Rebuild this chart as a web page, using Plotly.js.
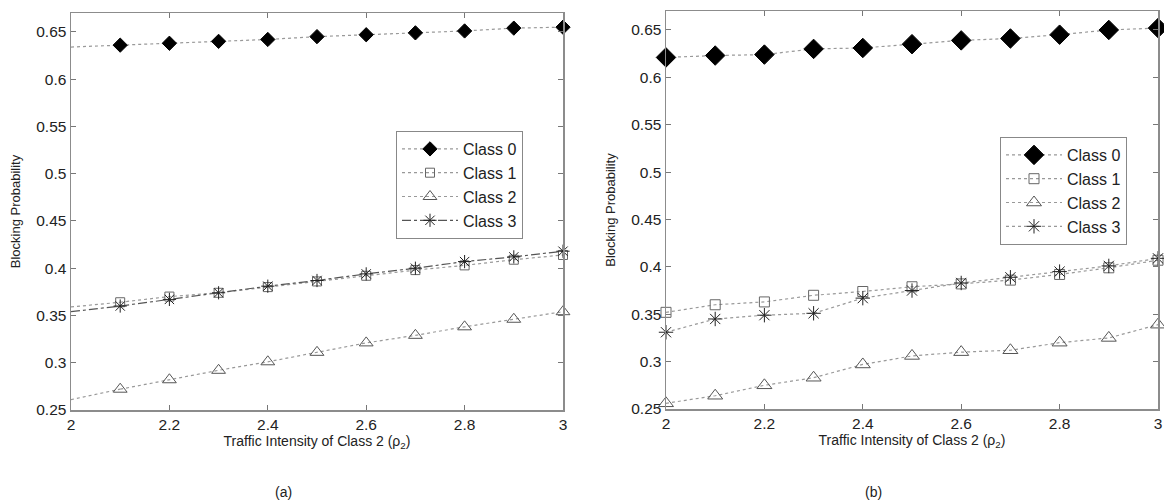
<!DOCTYPE html>
<html>
<head>
<meta charset="utf-8">
<script src="https://cdn.plot.ly/plotly-3.0.1.min.js"></script>
<style>html,body{margin:0;padding:0;background:#fff;}#chart{width:1164px;height:501px;}</style>
</head>
<body>
<div id="chart"></div>
<script>
// ---------- data ----------
var classNames = ["Class 0", "Class 1", "Class 2", "Class 3"];
var xTickVals = [2, 2.2, 2.4, 2.6, 2.8, 3];
var yTickVals = [0.25, 0.3, 0.35, 0.4, 0.45, 0.5, 0.55, 0.6, 0.65];

// (a) markers at rho2 = 2.1 ... 3.0, dotted lines start at rho2 = 2.0
var xA = [2.1, 2.2, 2.3, 2.4, 2.5, 2.6, 2.7, 2.8, 2.9, 3.0];
var xAStart = [2.0, 2.1];
var a_class0 = [0.636, 0.638, 0.640, 0.642, 0.645, 0.647, 0.649, 0.651, 0.654, 0.655];
var a_class1 = [0.364, 0.370, 0.374, 0.380, 0.386, 0.392, 0.398, 0.403, 0.409, 0.414];
var a_class2 = [0.272, 0.282, 0.292, 0.301, 0.311, 0.321, 0.329, 0.338, 0.346, 0.354];
var a_class3 = [0.360, 0.367, 0.374, 0.381, 0.387, 0.394, 0.400, 0.407, 0.412, 0.418];
var a_startValues = [0.634, 0.359, 0.261, 0.354]; // line values at rho2 = 2.0

// (b) rho2 = 2.0 ... 3.0
var xB = [2.0, 2.1, 2.2, 2.3, 2.4, 2.5, 2.6, 2.7, 2.8, 2.9, 3.0];
var b_class0 = [0.621, 0.623, 0.624, 0.630, 0.631, 0.635, 0.639, 0.641, 0.645, 0.650, 0.652];
var b_class1 = [0.352, 0.360, 0.363, 0.370, 0.374, 0.379, 0.382, 0.386, 0.392, 0.399, 0.407];
var b_class2 = [0.256, 0.264, 0.275, 0.283, 0.297, 0.306, 0.310, 0.312, 0.320, 0.325, 0.339];
var b_class3 = [0.331, 0.345, 0.349, 0.351, 0.367, 0.375, 0.383, 0.389, 0.395, 0.401, 0.409];

// ---------- styles ----------
var FONT = "Liberation Sans, Arial, Helvetica, sans-serif";
var styles = [
  {symbol: "diamond", sizeA: 11, sizeB: 15, fill: "#000", lineColor: "#000", dashA: "dot", lcolA: "#999"},
  {symbol: "square-open", sizeA: 9, sizeB: 10, fill: "#666", lineColor: "#666", dashA: "dot", lcolA: "#999"},
  {symbol: "triangle-up-open", sizeA: 12, sizeB: 13, fill: "#555", lineColor: "#555", dashA: "dot", lcolA: "#999"},
  {symbol: "asterisk-open", sizeA: 11, sizeB: 12, fill: "#222", lineColor: "#222", dashA: "dashdot", lcolA: "#555"}
];

var aData = [a_class0, a_class1, a_class2, a_class3];
var bData = [b_class0, b_class1, b_class2, b_class3];
var traces = [];

// (a)
aData.forEach(function (vals, i) {
  var s = styles[i];
  traces.push({
    x: xAStart, y: [a_startValues[i], vals[0]], xaxis: "x", yaxis: "y",
    mode: "lines", showlegend: false, hoverinfo: "skip",
    line: {color: s.lcolA, width: 1.2, dash: s.dashA}
  });
  traces.push({
    x: xA, y: vals, xaxis: "x", yaxis: "y", name: classNames[i],
    mode: "lines+markers", legend: "legend", legendgroup: "a" + i,
    cliponaxis: false,
    line: {color: s.lcolA, width: 1.2, dash: s.dashA},
    marker: {symbol: s.symbol, size: s.sizeA, color: s.fill, line: {color: s.lineColor, width: 1}}
  });
});
// (b)
bData.forEach(function (vals, i) {
  var s = styles[i];
  traces.push({
    x: xB, y: vals, xaxis: "x2", yaxis: "y2", name: classNames[i],
    mode: "lines+markers", legend: "legend2", legendgroup: "b" + i,
    cliponaxis: false,
    line: {color: "#999", width: 1.2, dash: "dot"},
    marker: {symbol: s.symbol, size: s.sizeB, color: s.fill, line: {color: s.lineColor, width: 1}}
  });
});

function xAxis(domain, anchor) {
  return {
    domain: domain, anchor: anchor, range: [2, 3], tickvals: xTickVals,
    ticks: "inside", ticklen: 5, tickcolor: "#777", tickwidth: 1,
    showline: true, linecolor: "#8c8c8c", linewidth: 1.5, mirror: "ticks",
    showgrid: false, zeroline: false,
    tickfont: {family: FONT, size: 15.5, color: "#222"},
    title: {text: "Traffic Intensity of Class 2 (ρ<sub>2</sub>)", font: {family: FONT, size: 14, color: "#222"}, standoff: 2}
  };
}
function yAxis(domain, anchor) {
  return {
    domain: domain, anchor: anchor, range: [0.25, 0.67], tickvals: yTickVals,
    ticks: "inside", ticklen: 5, tickcolor: "#777", tickwidth: 1,
    showline: true, linecolor: "#8c8c8c", linewidth: 1.5, mirror: "ticks",
    showgrid: false, zeroline: false,
    tickfont: {family: FONT, size: 15.5, color: "#222"},
    title: {text: "Blocking Probability", font: {family: FONT, size: 13, color: "#222"}, standoff: 12}
  };
}

var legendCommon = {
  xanchor: "left", yanchor: "top", bgcolor: "#fff",
  bordercolor: "#888", borderwidth: 1, traceorder: "grouped", tracegroupgap: 0,
  font: {family: FONT, size: 16, color: "#222"}, itemwidth: 56
};

var layout = {
  width: 1164, height: 501,
  margin: {l: 0, r: 0, t: 0, b: 0},
  paper_bgcolor: "#fff", plot_bgcolor: "#fff",
  showlegend: true,
  xaxis: xAxis([71 / 1164, 563 / 1164], "y"),
  yaxis: yAxis([1 - 410 / 501, 1 - 13 / 501], "x"),
  xaxis2: xAxis([666 / 1164, 1158 / 1164], "y2"),
  yaxis2: yAxis([1 - 409 / 501, 1 - 11 / 501], "x2"),
  legend: Object.assign({x: 396 / 1164, y: 1 - 131 / 501}, legendCommon),
  legend2: Object.assign({x: 1000 / 1164, y: 1 - 137 / 501}, legendCommon),
  annotations: [
    {text: "(a)", xref: "paper", yref: "paper", x: 283 / 1164, y: 1 - 492 / 501, showarrow: false,
     xanchor: "center", yanchor: "middle", font: {family: FONT, size: 14, color: "#222"}},
    {text: "(b)", xref: "paper", yref: "paper", x: 873 / 1164, y: 1 - 492 / 501, showarrow: false,
     xanchor: "center", yanchor: "middle", font: {family: FONT, size: 14, color: "#222"}}
  ]
};

Plotly.newPlot("chart", traces, layout, {staticPlot: true, displayModeBar: false});
</script>
</body>
</html>
